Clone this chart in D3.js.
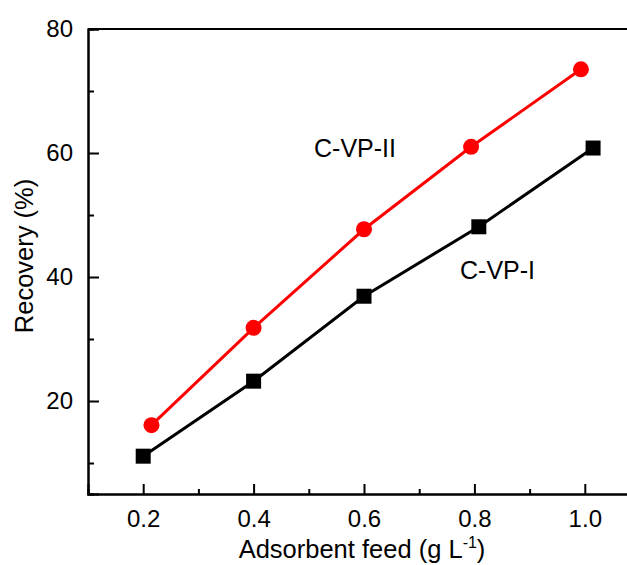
<!DOCTYPE html>
<html>
<head>
	<meta charset="UTF-8">
	<title>Recovery vs adsorbent feed</title>
	<script src="https://cdn.jsdelivr.net/npm/d3@7/dist/d3.min.js"></script>
	<style>
		body { margin: 0; background: #fff; }
		text { font-family: "Liberation Sans", Arial, sans-serif; fill: #000; }
	</style>
</head>
<body>
	<script>
		// data
		var feedI   = [0.2, 0.4, 0.6, 0.808, 1.015];
		var recI    = [11.1, 23.2, 36.9, 48.1, 60.8];
		var feedII  = [0.215, 0.4, 0.6, 0.794, 0.993];
		var recII   = [16.1, 31.8, 47.7, 61.0, 73.5];
		var xTicks = [0.2, 0.4, 0.6, 0.8, 1.0];
		var xMinor = [0.3, 0.5, 0.7, 0.9];
		var yTicks = [20, 40, 60, 80];
		var yMinor = [10, 30, 50, 70];

		var W = 627, H = 565;
		var x = d3.scaleLinear().domain([0.1, 1.1]).range([88, 640]);
		var y = d3.scaleLinear().domain([5, 80]).range([494, 29]);

		var svg = d3.select('body').append('svg')
			.attr('width', W).attr('height', H);

		// frame (top & right)
		svg.append('path')
			.attr('d', 'M' + x(0.1) + ',' + y(80) + 'H' + x(1.1) + 'V' + y(5))
			.attr('fill', 'none').attr('stroke', '#000').attr('stroke-width', 2);

		// minor ticks
		svg.append('g').attr('transform', 'translate(0,' + y(5) + ')')
			.call(d3.axisBottom(x).tickValues(xMinor).tickSize(-5).tickFormat(''));
		svg.append('g').attr('transform', 'translate(' + x(0.1) + ',0)')
			.call(d3.axisLeft(y).tickValues(yMinor).tickSize(-6).tickFormat(''));

		// major ticks
		svg.append('g').attr('transform', 'translate(0,' + y(5) + ')')
			.call(d3.axisBottom(x).tickValues(xTicks).tickSize(-10).tickPadding(16)
				.tickFormat(d3.format('.1f')));
		svg.append('g').attr('transform', 'translate(' + x(0.1) + ',0)')
			.call(d3.axisLeft(y).tickValues(yTicks).tickSize(-11).tickPadding(15)
				.tickFormat(d3.format('d')));

		svg.selectAll('.domain').attr('stroke-width', 2);
		svg.selectAll('.tick line').attr('stroke-width', 2);
		svg.selectAll('.tick text').attr('font-size', 24)
			.attr('font-family', '"Liberation Sans", Arial, sans-serif');

		// lines
		var line = d3.line()
			.x(function(d) { return x(d[0]); })
			.y(function(d) { return y(d[1]); });

		var dI = d3.zip(feedI, recI);
		var dII = d3.zip(feedII, recII);

		svg.append('path').datum(dI).attr('d', line)
			.attr('fill', 'none').attr('stroke', '#000').attr('stroke-width', 3);
		svg.append('path').datum(dII).attr('d', line)
			.attr('fill', 'none').attr('stroke', '#ff0000').attr('stroke-width', 3);

		svg.selectAll('.sq').data(dI).enter().append('rect')
			.attr('x', function(d) { return x(d[0]) - 7.5; })
			.attr('y', function(d) { return y(d[1]) - 7.5; })
			.attr('width', 15).attr('height', 15).attr('fill', '#000');
		svg.selectAll('.ci').data(dII).enter().append('circle')
			.attr('cx', function(d) { return x(d[0]); })
			.attr('cy', function(d) { return y(d[1]); })
			.attr('r', 8).attr('fill', '#ff0000');

		// series labels
		svg.append('text').attr('x', 314).attr('y', 157).attr('font-size', 25).text('C-VP-II');
		svg.append('text').attr('x', 460).attr('y', 279).attr('font-size', 25).text('C-VP-I');

		// axis titles
		var xt = svg.append('text').attr('x', 362).attr('y', 558)
			.attr('text-anchor', 'middle').attr('font-size', 25.5);
		xt.append('tspan').text('Adsorbent feed (g L');
		xt.append('tspan').attr('dy', -10).attr('font-size', 16).text('-1');
		xt.append('tspan').attr('dy', 10).text(')');

		svg.append('text')
			.attr('transform', 'translate(33,256) rotate(-90)')
			.attr('text-anchor', 'middle').attr('font-size', 25.5)
			.text('Recovery (%)');
	</script>
</body>
</html>
